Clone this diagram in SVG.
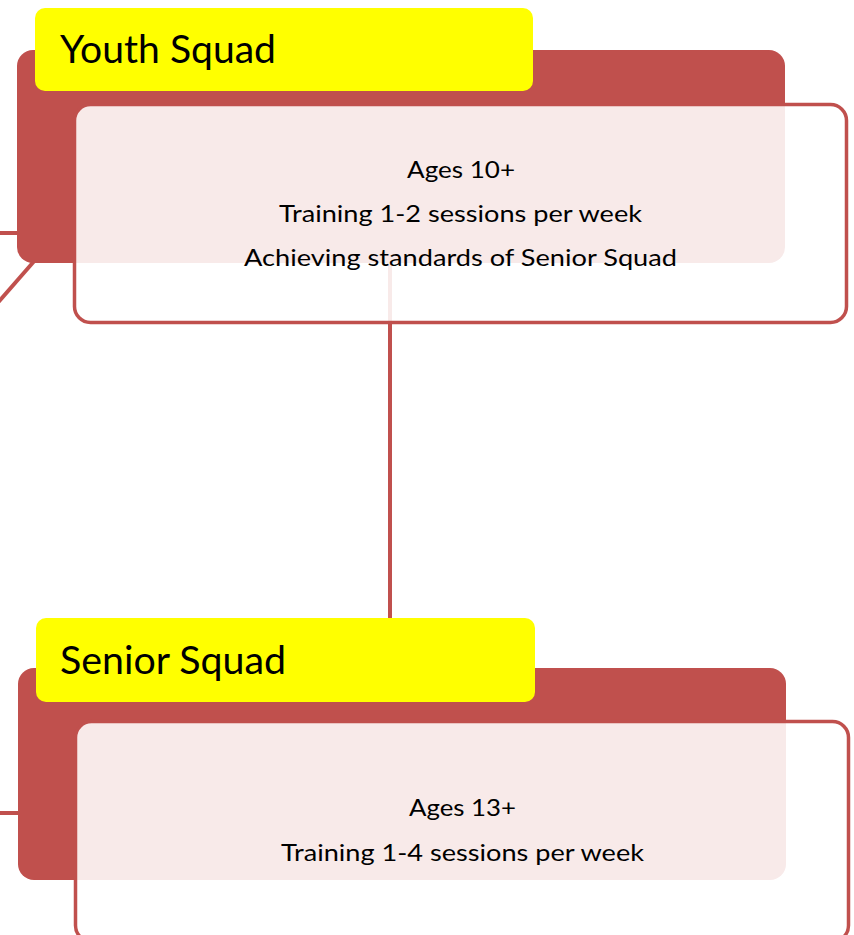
<svg xmlns="http://www.w3.org/2000/svg" width="854" height="935" viewBox="0 0 854 935">
<style>
.conn{stroke:#C0504D;stroke-width:4;fill:none}
.base{fill:#C0504D}
.box{fill:#FFFFFF;fill-opacity:0.88;stroke:#C0504D;stroke-width:3.5}
.title{fill:#FFFF00}
.tt{font-family:Lato,"Liberation Sans",sans-serif;font-size:39px;fill:#000}
.bt{font-family:Lato,"Liberation Sans",sans-serif;font-size:23.5px;fill:#000;text-anchor:middle}
</style>
<rect width="854" height="935" fill="#FFFFFF"/>
<g id="connectors">
<line class="conn" x1="-2" y1="233" x2="20" y2="233"/>
<line class="conn" x1="36" y1="259" x2="-5" y2="306"/>
<line class="conn" x1="-2" y1="813" x2="20" y2="813"/>
<line class="conn" x1="390" y1="262" x2="390" y2="620"/>
</g>
<g id="youth-squad">
<rect class="base" x="17" y="50" width="768" height="213" rx="16"/>
<rect class="box" x="74.5" y="104.5" width="772" height="218" rx="16"/>
<rect class="title" x="35" y="8" width="498" height="83" rx="10"/>
<text class="tt" x="60" y="63" textLength="216" lengthAdjust="spacingAndGlyphs">Youth Squad</text>
<text class="bt" x="461" y="178" textLength="108" lengthAdjust="spacingAndGlyphs">Ages 10+</text>
<text class="bt" x="460.5" y="222" textLength="363" lengthAdjust="spacingAndGlyphs">Training 1-2 sessions per week</text>
<text class="bt" x="460.5" y="266" textLength="433" lengthAdjust="spacingAndGlyphs">Achieving standards of Senior Squad</text>
</g>
<g id="senior-squad">
<rect class="base" x="18" y="668" width="768" height="212" rx="16"/>
<rect class="box" x="75.5" y="721.5" width="773" height="220" rx="16"/>
<rect class="title" x="36" y="618" width="499" height="84" rx="10"/>
<text class="tt" x="60" y="674" textLength="226" lengthAdjust="spacingAndGlyphs">Senior Squad</text>
<text class="bt" x="462.5" y="816" textLength="107" lengthAdjust="spacingAndGlyphs">Ages 13+</text>
<text class="bt" x="462.5" y="861" textLength="363" lengthAdjust="spacingAndGlyphs">Training 1-4 sessions per week</text>
</g>
</svg>
